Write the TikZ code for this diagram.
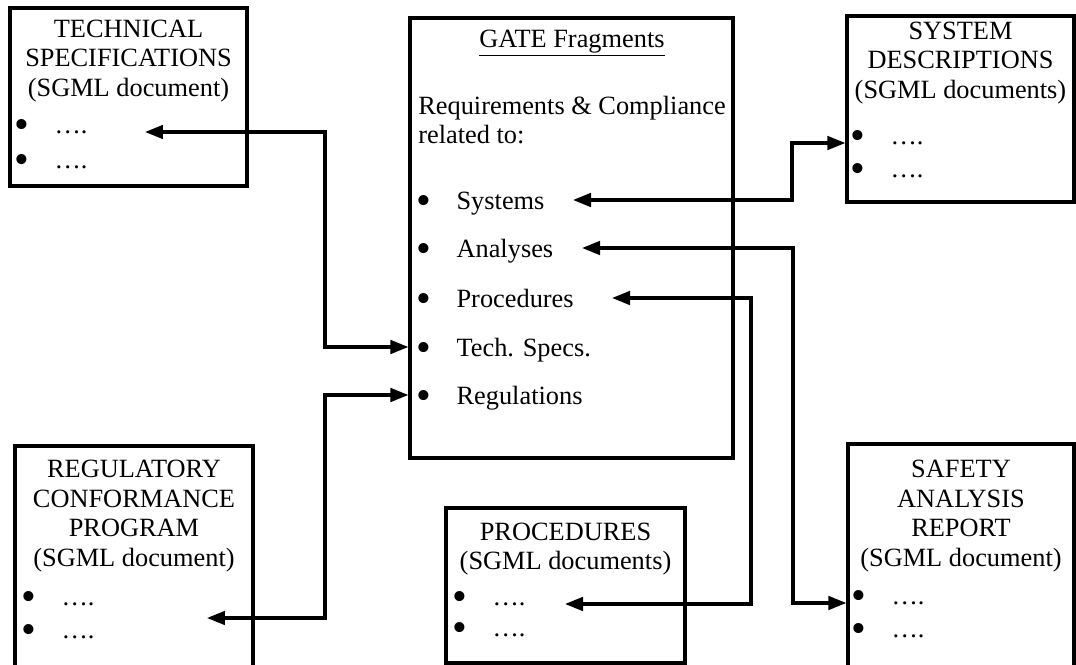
\documentclass[tikz,border=0pt]{standalone}
\usepackage{fontspec}
\setmainfont{Liberation Serif}
\usepackage{tikz}
\usetikzlibrary{arrows.meta,positioning,fit,calc}
\newcommand{\docfont}{\fontsize{15pt}{16.8pt}\selectfont}
\newcommand{\bul}{\raisebox{-3.2pt}{\fontsize{24pt}{24pt}\selectfont\textbullet}\hspace{14.5pt}}

\begin{document}
\begin{tikzpicture}[x=0.02cm,y=-0.02cm,
  box/.style={draw,line width=1.8pt,inner sep=0pt},
  title/.style={align=center,inner sep=0pt,font=\docfont},
  gitem/.style={anchor=west,inner sep=0pt,text height=10.5pt,text depth=0pt,font=\docfont},
  ditem/.style={anchor=west,inner sep=0pt,text height=1.5pt,text depth=0pt,font=\docfont},
  link/.style={{Triangle[length=0.36cm,width=0.27cm]}-{Triangle[length=0.36cm,width=0.27cm]},
               line width=1.8pt}
]
\useasboundingbox (0,0) rectangle (1076,665);
\clip (0,0) rectangle (1076,665);
% Boxes
\node[box,fit={(10,8) (247,186)}] (ts) {};
\node[box,fit={(410,18) (733,458)}] (gate) {};
\node[box,fit={(847,16) (1074,202)}] (sd) {};
\node[box,fit={(15,446) (253,690)}] (rc) {};
\node[box,fit={(446,508) (685,663)}] (pr) {};
\node[box,fit={(848,444) (1074,690)}] (sa) {};
% Technical specifications
\node[title] (tsT) at (128.5,61) {TECHNICAL\\SPECIFICATIONS\\(SGML document)};
\node[ditem] (ts1) at (14,132) {\bul ….};
\node[ditem] (ts2) at (14,167) {\bul ….};
% GATE fragments
\node[title] (gT) at (572,43) {\underline{GATE Fragments}};
\node[title,align=left,anchor=west] (gR) at (418,120) {Requirements \& Compliance\\related to:};
\node[gitem] (gsys) at (416,200) {\bul Systems};
\node[gitem] (gana) at (416,248) {\bul Analyses};
\node[gitem] (gpro) at (416,298) {\bul Procedures};
\node[gitem] (gtech) at (416,347) {\bul Tech. Specs.};
\node[gitem] (greg) at (416,395) {\bul Regulations};
% System descriptions
\node[title] (sdT) at (960.5,63) {SYSTEM\\DESCRIPTIONS\\(SGML documents)};
\node[ditem] (sd1) at (850,143) {\bul ….};
\node[ditem] (sd2) at (850,176) {\bul ….};
% Regulatory conformance program
\node[title] (rcT) at (134,516) {REGULATORY\\CONFORMANCE\\PROGRAM\\(SGML document)};
\node[ditem] (rc1) at (21,604) {\bul ….};
\node[ditem] (rc2) at (21,637) {\bul ….};
% Procedures
\node[title] (prT) at (565.5,549) {PROCEDURES\\(SGML documents)};
\node[ditem] (pr1) at (452,604) {\bul ….};
\node[ditem] (pr2) at (452,635) {\bul ….};
% Safety analysis report
\node[title] (saT) at (961,516) {SAFETY\\ANALYSIS\\REPORT\\(SGML document)};
\node[ditem] (sa1) at (851,603) {\bul ….};
\node[ditem] (sa2) at (851,636) {\bul ….};
% Free ends
\coordinate (tsA) at (145,0 |- ts1);
\coordinate (rcA) at (207,618);
\coordinate (prA) at (565,0 |- pr1);
\coordinate (gsysA) at (573,0 |- gsys);
\coordinate (ganaA) at (582,0 |- gana);
\coordinate (gproA) at (612,0 |- gpro);
% Links
\draw[link] (tsA) -- ++(180,0) |- (gate.west |- gtech);
\draw[link] (rcA) -- ++(118,0) |- (gate.west |- greg);
\draw[link] (gsysA) -- ++(219,0) |- (sd.west |- sd1);
\draw[link] (ganaA) -- ++(211,0) |- (sa.west |- sa1);
\draw[link] (gproA) -- ++(139,0) |- (prA);
\end{tikzpicture}
\end{document}
